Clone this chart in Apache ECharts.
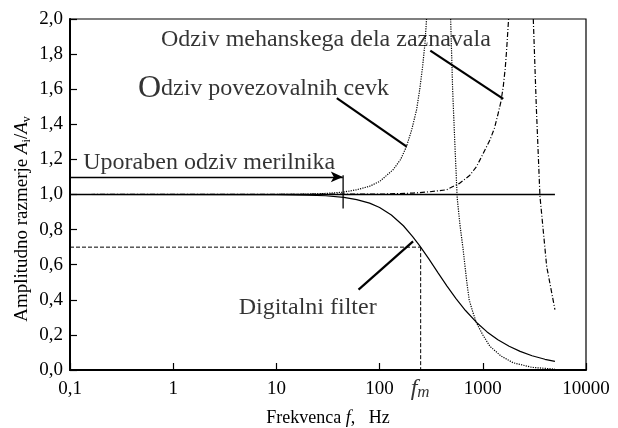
<!DOCTYPE html>
<html><head><meta charset="utf-8">
<script src="https://cdn.jsdelivr.net/npm/echarts@6/dist/echarts.min.js"></script>
<style>html,body{margin:0;padding:0;background:#fff}#c{width:618px;height:428px}</style>
</head><body><div id="c"></div>
<script>
// ---- tick labels ----
const xTickLabels = ['0,1', '1', '10', '100', '1000', '10000'];
const yTickLabels = ['0,0', '0,2', '0,4', '0,6', '0,8', '1,0', '1,2', '1,4', '1,6', '1,8', '2,0'];

// ---- curves (frequency Hz, amplitude ratio) ----
const unityF = [0.1, 5000];
const unityA = [1.0, 1.0];

const filterF = [0.1, 10, 20, 30, 45, 60, 80, 100, 130, 170, 210, 245, 300, 370, 450, 550, 680, 870, 1100, 1400, 1800, 2300, 3000, 4000, 5000];
const filterA = [1.0, 0.999, 0.997, 0.993, 0.984, 0.971, 0.951, 0.926, 0.883, 0.822, 0.759, 0.707, 0.633, 0.552, 0.478, 0.407, 0.339, 0.271, 0.217, 0.172, 0.135, 0.106, 0.081, 0.061, 0.049];

const pipeUpF = [0.1, 10, 20, 30, 44, 60, 80, 100, 135, 160, 182, 205, 228, 245, 261, 275, 285];
const pipeUpA = [1.0, 1.0, 1.002, 1.006, 1.013, 1.027, 1.047, 1.074, 1.141, 1.2, 1.273, 1.37, 1.482, 1.6, 1.729, 1.86, 2.0];

const pipeDownF = [488, 510, 535, 565, 600, 645, 700, 738, 800, 870, 1000, 1172, 1500, 1973, 3000, 5000];
const pipeDownA = [2.0, 1.6, 1.3, 0.98, 0.83, 0.686, 0.5, 0.40, 0.33, 0.268, 0.2, 0.135, 0.08, 0.041, 0.015, 0.005];

const mechUpF = [0.1, 100, 211, 300, 446, 600, 750, 871, 1000, 1172, 1300, 1410, 1500, 1578, 1650, 1700, 1778];
const mechUpA = [1.0, 1.002, 1.008, 1.015, 1.027, 1.065, 1.11, 1.16, 1.23, 1.31, 1.38, 1.463, 1.53, 1.615, 1.72, 1.82, 2.0];

const mechDownF = [3085, 3300, 3580, 4160, 5000];
const mechDownA = [2.0, 1.5, 0.99, 0.59, 0.344];

// ---- fm guide ----
const fmStart = 0.1;
const fm = 250;
const fmA = 0.7;

// ---- annotation texts [freq, amplitude] ----
const annoTexts = [
  {text: 'Uporaben odziv merilnika', at: [0.136, 1.18]},
  {text: 'Odziv mehanskega dela zaznavala', at: [0.77, 1.88]},
  {text: '{big|O}dziv povezovalnih cevk', at: [0.46, 1.6]},
  {text: 'Digitalni filter', at: [4.36, 0.35]}
];
// ---- pointer lines ----
const pointers = [
  [[310, 1.82], [1578, 1.545]],
  [[38.5, 1.549], [183, 1.273]],
  [[62.5, 0.458], [211, 0.733]]
];
const rangeArrow = [[0.1, 1.1], [44, 1.1]];
const rangeTick = [[44.3, 1.11], [44.3, 0.92]];

const zip = (f, a) => f.map((v, i) => [v, a[i]]);
const FONT = 'Liberation Serif';

const lineSeries = (data, style) => ({
  type: 'line', data, symbol: 'none', showSymbol: false, silent: true,
  lineStyle: Object.assign({color: '#000', width: 1}, style), z: style.z || 2
});

const series = [
  lineSeries(zip(pipeUpF, pipeUpA), {type: 'dotted', width: 1.2}),
  lineSeries(zip(pipeDownF, pipeDownA), {type: 'dotted', width: 1.2}),
  lineSeries(zip(mechUpF, mechUpA), {type: [5, 2, 1, 2], width: 1.2}),
  lineSeries(zip(mechDownF, mechDownA), {type: [5, 2, 1, 2], width: 1.2}),
  lineSeries(zip(filterF, filterA), {width: 1.2, z: 3}),
  lineSeries(zip(unityF, unityA), {width: 1.5, z: 4}),
  lineSeries([[fmStart, fmA], [fm, fmA]], {type: [4, 2], width: 1}),
  lineSeries([[fm, fmA], [fm, 0]], {type: [4, 2], width: 1}),
  lineSeries(rangeTick, {width: 1.3}),
  {
    type: 'line', data: [], silent: true,
    markLine: {
      silent: true, symbol: ['none', 'arrow'], symbolSize: [8, 12],
      label: {show: false},
      lineStyle: {color: '#000', width: 1.3, type: 'solid'},
      data: [[{coord: rangeArrow[0]}, {coord: rangeArrow[1]}]]
    }
  }
];
pointers.forEach(p => series.push(lineSeries(p, {width: 2.2})));

series.push({
  type: 'scatter', silent: true, symbolSize: 1,
  itemStyle: {color: 'rgba(0,0,0,0)'},
  data: annoTexts.map(t => ({value: t.at, name: t.text})),
  label: {
    show: true, position: [0, 0], align: 'left', verticalAlign: 'middle',
    formatter: p => p.name, color: '#000', fontFamily: FONT, fontSize: 24,
    rich: {big: {fontSize: 32, fontFamily: FONT, color: '#000'}}
  }
});
series.push({
  type: 'scatter', silent: true, symbolSize: 1,
  itemStyle: {color: 'rgba(0,0,0,0)'},
  data: [{value: [fm, 0], name: 'fm'}],
  label: {
    show: true, position: [0, 0], align: 'center', verticalAlign: 'middle', offset: [0, 19],
    formatter: () => '{f|f}{m|m}', color: '#000',
    rich: {
      f: {fontFamily: FONT, fontStyle: 'italic', fontSize: 24, color: '#000'},
      m: {fontFamily: FONT, fontStyle: 'italic', fontSize: 17, color: '#000', padding: [8, 0, 0, 0]}
    }
  }
});

const chart = echarts.init(document.getElementById('c'), null, {renderer: 'canvas'});
chart.setOption({
  animation: false,
  backgroundColor: '#fff',
  grid: {left: 70, right: 32, top: 19, bottom: 58, show: true, borderColor: '#000', borderWidth: 1.2,
    containLabel: false, outerBoundsMode: 'none'},
  xAxis: {
    type: 'log', logBase: 10, min: 0.1, max: 10000,
    name: 'Frekvenca {it|f},   Hz', nameLocation: 'middle', nameGap: 39,
    nameTextStyle: {fontFamily: FONT, fontSize: 18, color: '#000',
      rich: {it: {fontFamily: FONT, fontStyle: 'italic', fontSize: 18, color: '#000'}}},
    axisLine: {lineStyle: {color: '#000', width: 2}},
    axisTick: {inside: true, length: 7, lineStyle: {color: '#000', width: 1.2}},
    minorTick: {show: false},
    splitLine: {show: false},
    axisLabel: {
      fontFamily: FONT, fontSize: 19, color: '#000', margin: 10,
      formatter: v => xTickLabels[Math.round(Math.log10(v)) + 1]
    }
  },
  yAxis: {
    type: 'value', min: 0, max: 2, interval: 0.2,
    axisLine: {show: true, lineStyle: {color: '#000', width: 2}},
    axisTick: {show: true, inside: true, length: 7, lineStyle: {color: '#000', width: 1.2}},
    splitLine: {show: false},
    axisLabel: {
      fontFamily: FONT, fontSize: 19, color: '#000', margin: 7,
      formatter: v => yTickLabels[Math.round(v / 0.2)]
    }
  },
  graphic: [{
    type: 'text', x: 22, y: 219, rotation: Math.PI / 2, silent: true,
    style: {
      text: 'Amplitudno razmerje {it|A}{sub|i}{n|/}{it|A}{sub|v}',
      fill: '#000', font: '19px "Liberation Serif"', align: 'center', verticalAlign: 'middle',
      rich: {
        it: {fontFamily: FONT, fontStyle: 'italic', fontSize: 19, fill: '#000'},
        n: {fontFamily: FONT, fontSize: 19, fill: '#000'},
        sub: {fontFamily: FONT, fontSize: 12, fill: '#000', padding: [9, 0, 0, 0]}
      }
    }
  }],
  series
});
</script></body></html>
